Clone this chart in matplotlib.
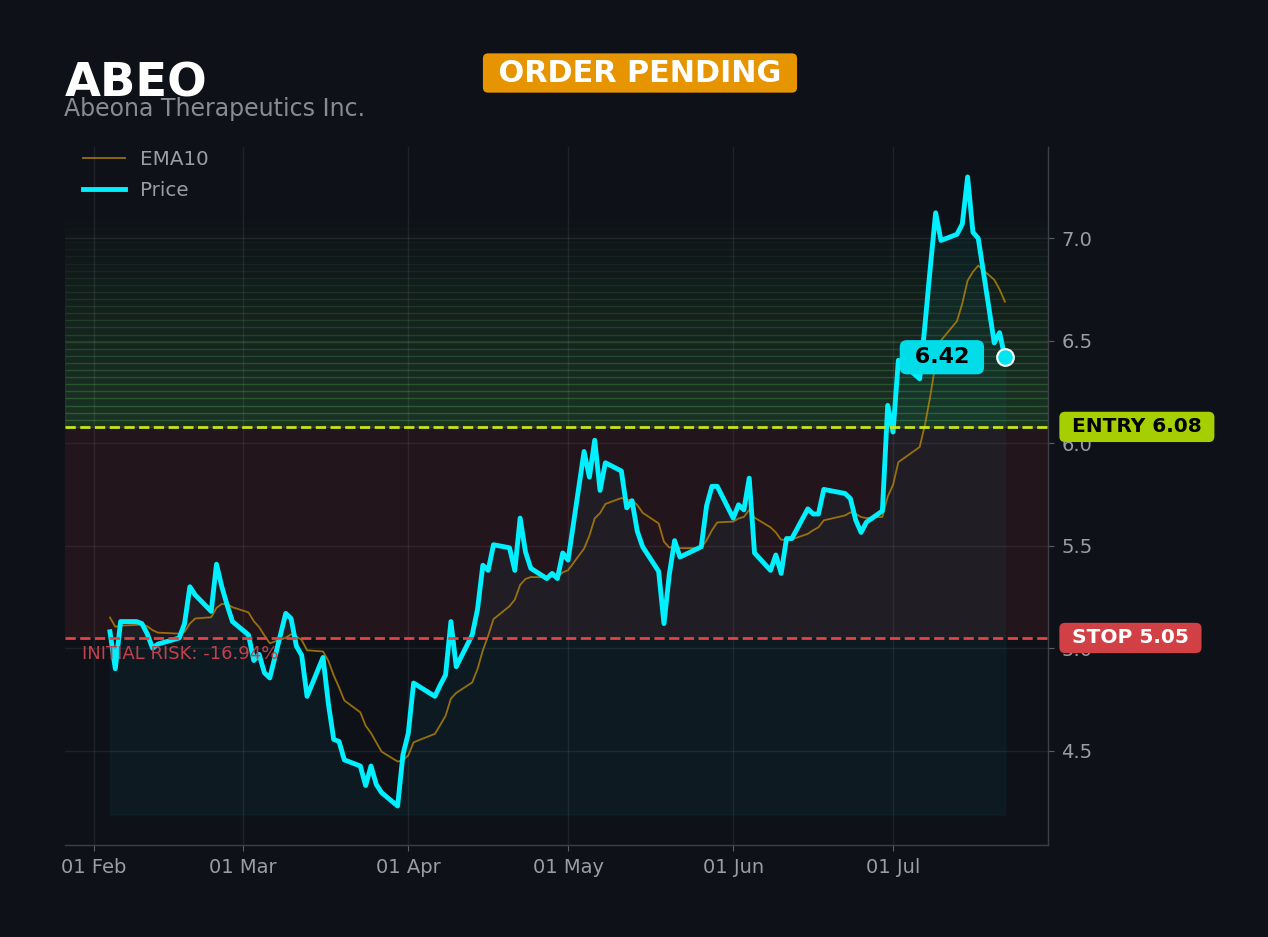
import matplotlib
matplotlib.use('Agg')
import matplotlib.pyplot as plt
import matplotlib.dates as mdates
import matplotlib.ticker as mticker
from matplotlib.transforms import blended_transform_factory
import numpy as np
import pandas as pd

# ---------------- data ----------------
TICKER = 'ABEO'
COMPANY = 'Abeona Therapeutics Inc.'
STATUS = 'ORDER PENDING'
ENTRY = 6.08
STOP = 5.05
START = '2026-02-04'
END = '2026-07-22'
HOLIDAYS = ['2026-02-16', '2026-04-03', '2026-05-25', '2026-06-19', '2026-07-03']

price_feb = [5.08, 4.90, 5.13, 5.13, 5.12, 5.07, 5.00, 5.02, 5.05, 5.12, 5.30, 5.26, 5.18,
             5.41, 5.30, 5.21, 5.13]
price_mar = [5.065, 4.94, 4.97, 4.88, 4.855, 5.17, 5.145, 5.01, 4.965, 4.765, 4.955, 4.73,
             4.555, 4.545, 4.455, 4.425, 4.33, 4.425, 4.335, 4.295, 4.23, 4.48]
price_apr = [4.585, 4.83, 4.765, 4.82, 4.87, 5.13, 4.91, 5.065, 5.19, 5.405, 5.38, 5.505,
             5.49, 5.38, 5.635, 5.47, 5.39, 5.34, 5.365, 5.34, 5.465]
price_may = [5.43, 5.96, 5.835, 6.015, 5.77, 5.905, 5.865, 5.685, 5.72, 5.57, 5.495, 5.375,
             5.12, 5.36, 5.525, 5.445, 5.495, 5.695, 5.79, 5.79]
price_jun = [5.635, 5.70, 5.675, 5.83, 5.465, 5.38, 5.455, 5.365, 5.535, 5.535, 5.68, 5.655,
             5.655, 5.775, 5.755, 5.73, 5.625, 5.565, 5.615, 5.67, 6.185]
price_jul = [6.055, 6.405, 6.315, 6.58, 6.86, 7.125, 6.99, 7.02, 7.07, 7.30, 7.03, 7.00,
             6.49, 6.54, 6.42]

ema_feb = [5.15, 5.105, 5.11, 5.114, 5.115, 5.107, 5.088, 5.076, 5.071, 5.08, 5.12, 5.145,
           5.151, 5.197, 5.216, 5.215, 5.20]
ema_mar = [5.175, 5.132, 5.103, 5.062, 5.024, 5.051, 5.068, 5.057, 5.040, 4.990, 4.984, 4.938,
           4.868, 4.809, 4.745, 4.687, 4.622, 4.586, 4.540, 4.495, 4.447, 4.453]
ema_apr = [4.477, 4.541, 4.582, 4.625, 4.670, 4.754, 4.782, 4.833, 4.898, 4.990, 5.061, 5.142,
           5.205, 5.237, 5.309, 5.338, 5.347, 5.346, 5.349, 5.349, 5.370]
ema_may = [5.381, 5.486, 5.549, 5.634, 5.659, 5.704, 5.733, 5.724, 5.724, 5.698, 5.661, 5.609,
           5.520, 5.491, 5.497, 5.488, 5.489, 5.527, 5.575, 5.614]
ema_jun = [5.618, 5.633, 5.641, 5.675, 5.637, 5.590, 5.565, 5.529, 5.530, 5.531, 5.558, 5.576,
           5.590, 5.624, 5.648, 5.663, 5.656, 5.640, 5.635, 5.641, 5.740]
ema_jul = [5.797, 5.908, 5.982, 6.091, 6.231, 6.394, 6.502, 6.596, 6.682, 6.794, 6.837, 6.867,
           6.798, 6.751, 6.691]

Y_TICKS = [4.5, 5.0, 5.5, 6.0, 6.5, 7.0]

dates = pd.bdate_range(START, END)
dates = dates[~dates.isin(pd.to_datetime(HOLIDAYS))]
price = np.array(price_feb + price_mar + price_apr + price_may + price_jun + price_jul)
ema = np.array(ema_feb + ema_mar + ema_apr + ema_may + ema_jun + ema_jul)

# ---------------- style ----------------
BG = '#0e1118'
CYAN = '#00f0ff'
GREY = '#9a9da3'

W, H = 1268, 937
fig = plt.figure(figsize=(W / 100, 9.3701), dpi=100, facecolor=BG)
ax = fig.add_axes([65 / W, 1 - 845 / H, (1048 - 65) / W, (845 - 147) / H])
ax.set_facecolor(BG)

ymin, ymax = price.min() * 0.955, price.max() * 1.02
ax.set_ylim(ymin, ymax)
ax.set_xlim(dates[0] - pd.Timedelta(days=8.44), dates[-1] + pd.Timedelta(days=8.09))

# risk zone (stop -> entry)
ax.axhspan(STOP, ENTRY, color='#ef4444', alpha=0.09, lw=0, zorder=0)
# target gradient above entry
n_bands = 30
top = 7.12
step = (top - ENTRY) / n_bands
for i in range(n_bands):
    ax.axhspan(ENTRY + i * step, ENTRY + (i + 1) * step, color='#4caf50',
               alpha=0.21 * (1 - i / n_bands), lw=1, zorder=0)

ax.grid(True, color='#ffffff', alpha=0.07, lw=1)

base = price.min() * 0.99
ax.fill_between(dates, price, base, color='#00e5ff', alpha=0.045, zorder=1)

ax.plot(dates, ema, color='#b8860b', alpha=0.8, lw=1.3, label='EMA10', zorder=3)
ax.plot(dates, price, color=CYAN, lw=3.5, label='Price', zorder=4)

ax.axhline(ENTRY, color='#c5e41a', ls='--', lw=2, zorder=5)
ax.axhline(STOP, color='#e04444', ls='--', lw=2, zorder=5)

# last point
ax.plot(dates[-1], price[-1], 'o', ms=12, mfc='#00e5f0', mec='white', mew=1.5, zorder=7)
ax.annotate(f' {price[-1]:.2f} ', xy=(dates[-1], price[-1]), xytext=(-63, 0),
            textcoords='offset pixels', ha='center', va='center', fontsize=16,
            fontweight='bold', color='black', zorder=8,
            bbox=dict(boxstyle='round,pad=0.32', fc='#00dce8', ec='none'))

tr = blended_transform_factory(ax.transAxes, ax.transData)
ax.text(1.0173, ENTRY, ' ENTRY 6.08 ', transform=tr, ha='left', va='center', fontsize=14.5,
        fontweight='bold', color='black',
        bbox=dict(boxstyle='round,pad=0.28', fc='#a5cf00', ec='none'))
ax.text(1.0173, STOP, ' STOP 5.05 ', transform=tr, ha='left', va='center', fontsize=14.5,
        fontweight='bold', color='white',
        bbox=dict(boxstyle='round,pad=0.28', fc='#d04045', ec='none'))
risk = (STOP - ENTRY) / ENTRY * 100
ax.text(0.0173, STOP - 0.08, f'INITIAL RISK: {risk:.2f}%', transform=tr, ha='left',
        va='center', fontsize=13, color='#c4404a', zorder=6)

# axes cosmetics
ax.yaxis.tick_right()
ax.set_yticks(Y_TICKS)
ax.yaxis.set_major_formatter(mticker.FormatStrFormatter('%.1f'))
ax.xaxis.set_major_locator(mdates.MonthLocator())
ax.xaxis.set_major_formatter(mdates.DateFormatter('%d %b'))
ax.tick_params(axis='both', colors='#5a5d63', labelcolor=GREY, labelsize=14, length=4.5, pad=5)
for s in ['top', 'left']:
    ax.spines[s].set_visible(False)
for s in ['right', 'bottom']:
    ax.spines[s].set_color('#3c3f45')
    ax.spines[s].set_linewidth(1)

leg = ax.legend(loc='upper left', bbox_to_anchor=(0, 1.0212), frameon=False, fontsize=14.3,
                labelcolor=GREY, labelspacing=0.62, handlelength=2.1)

# titles
fig.text(65 / W, 1 - 96 / H, TICKER, fontsize=33.5, fontweight='bold', color='white',
         ha='left', va='baseline')
fig.text(64 / W, 1 - 116 / H, COMPANY, fontsize=17, color='#878b92', ha='left',
         va='baseline')
fig.text(640 / W, 1 - 73 / H, f' {STATUS} ', ha='center', va='center', fontsize=21.8,
         fontweight='bold', color='white',
         bbox=dict(boxstyle='round,pad=0.17', fc='#e69500', ec='none'))

fig.savefig('out.png', dpi=100, facecolor=BG)
